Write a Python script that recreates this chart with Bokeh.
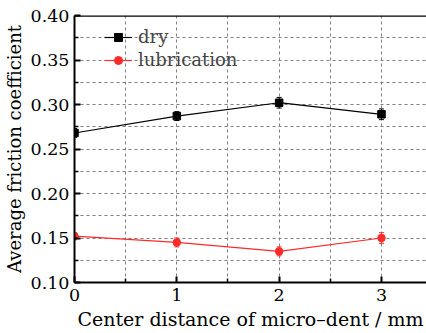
from bokeh.plotting import figure
from bokeh.models import Whisker, ColumnDataSource, FixedTicker, Range1d, CustomJSTickFormatter, Span
from bokeh.embed import file_html
from bokeh.resources import INLINE

distance = [0, 1, 2, 3]
dry = [0.268, 0.287, 0.302, 0.289]
dry_err = [0.005, 0.005, 0.006, 0.006]
lub = [0.152, 0.145, 0.135, 0.150]
lub_err = [0.004, 0.005, 0.005, 0.006]
y_ticks = [0.10, 0.15, 0.20, 0.25, 0.30, 0.35, 0.40]
x_ticks = [0, 1, 2, 3]

FONT = "DejaVu Serif"

p = figure(width=426, height=333, output_backend="svg", toolbar_location=None,
           x_range=Range1d(0, 3.44), y_range=Range1d(0.10, 0.40),
           min_border_left=73, min_border_bottom=51, min_border_top=15, min_border_right=0)

p.outline_line_color = None
p.add_layout(Span(location=y_ticks[-1], dimension="width", line_color="black", line_width=2.5))

for ax in (p.xaxis[0], p.yaxis[0]):
    ax.axis_line_width = 2
    ax.major_tick_in = 6
    ax.major_tick_out = 0
    ax.minor_tick_in = 4
    ax.minor_tick_out = 0
    ax.major_label_text_font = FONT
    ax.major_label_text_font_size = "17.5px"
    ax.major_label_text_color = "black"
    ax.axis_label_text_font = FONT
    ax.axis_label_text_font_style = "normal"
    ax.axis_label_text_color = "black"
    ax.major_tick_line_width = 2
    ax.minor_tick_line_width = 1.5

p.xaxis.axis_label_text_font_size = "19px"
p.yaxis.axis_label_text_font_size = "18px"
p.xaxis.ticker = FixedTicker(ticks=x_ticks, minor_ticks=[0.5, 1.5, 2.5, 3.5])
p.yaxis.ticker = FixedTicker(ticks=y_ticks, minor_ticks=[0.125, 0.175, 0.225, 0.275, 0.325, 0.375])
p.yaxis.formatter = CustomJSTickFormatter(code="return tick.toFixed(2);")
p.xaxis.axis_label = "Center distance of micro\u2013dent / mm"
p.yaxis.axis_label = "Average friction coefficient"
p.xaxis.major_label_standoff = 6
p.yaxis.major_label_standoff = 5
p.xaxis.axis_label_standoff = 4
p.yaxis.axis_label_standoff = 3

for g in (p.xgrid[0], p.ygrid[0]):
    g.grid_line_color = "#808080"
    g.grid_line_dash = "3 3"
    g.grid_line_width = 1
    g.minor_grid_line_color = "#808080"
    g.minor_grid_line_dash = "3 3"
    g.minor_grid_line_width = 1

src_d = ColumnDataSource(dict(x=distance, y=dry,
                              lo=[a - b for a, b in zip(dry, dry_err)],
                              hi=[a + b for a, b in zip(dry, dry_err)]))
src_l = ColumnDataSource(dict(x=distance, y=lub,
                              lo=[a - b for a, b in zip(lub, lub_err)],
                              hi=[a + b for a, b in zip(lub, lub_err)]))

for src, col in ((src_d, "black"), (src_l, "#ff2a2a")):
    w = Whisker(source=src, base="x", lower="lo", upper="hi", line_color=col, line_width=1)
    w.upper_head.line_color = col
    w.lower_head.line_color = col
    w.upper_head.size = 5
    w.lower_head.size = 5
    p.add_layout(w)

p.line("x", "y", source=src_d, color="black", line_width=1.2, legend_label="dry")
p.scatter("x", "y", source=src_d, marker="square", size=7.5, color="black", legend_label="dry")
p.line("x", "y", source=src_l, color="#ff2a2a", line_width=1.2, legend_label="lubrication")
p.scatter("x", "y", source=src_l, marker="circle", size=7.5, color="#ff2a2a", legend_label="lubrication")

p.legend.location = (28, 210)
p.legend.background_fill_alpha = 0
p.legend.border_line_alpha = 0
p.legend.label_text_font = FONT
p.legend.label_text_font_size = "18px"
p.legend.glyph_width = 28
p.legend.glyph_height = 20
p.legend.label_height = 20
p.legend.spacing = 2
p.legend.padding = 2
p.legend.margin = 0
p.legend.label_standoff = 6

open("out.html", "w").write(file_html(p, INLINE))
